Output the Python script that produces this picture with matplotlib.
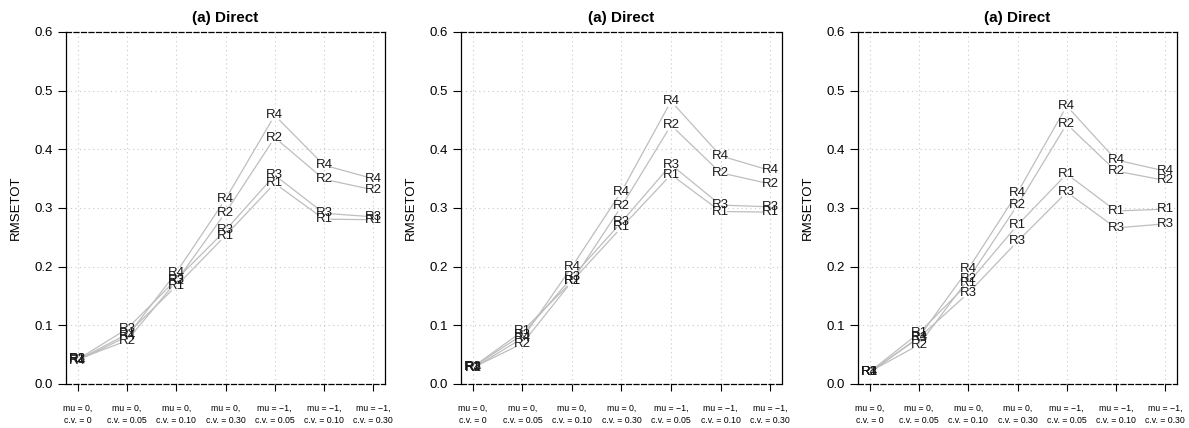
import numpy as np
import matplotlib
matplotlib.use("Agg")
import matplotlib.pyplot as plt

plt.rcParams["font.family"] = ["Liberation Sans", "DejaVu Sans"]

COR_LINHA = "#bebebe"
COR_TEXTO = "#1a1a1a"
COR_GRADE = "#c8c8c8"

X_LABELS = ["mu = 0,\nc.v. = 0", "mu = 0,\nc.v. = 0.05", "mu = 0,\nc.v. = 0.10",
            "mu = 0,\nc.v. = 0.30", "mu = \u22121,\nc.v. = 0.05", "mu = \u22121,\nc.v. = 0.10",
            "mu = \u22121,\nc.v. = 0.30"]
SERIES = ["R1", "R2", "R3", "R4"]
TITULOS = ["(a) Direct", "(a) Direct", "(a) Direct"]

# painel 1
P1_R1 = [0.041, 0.085, 0.167, 0.253, 0.342, 0.281, 0.280]
P1_R2 = [0.042, 0.074, 0.175, 0.292, 0.420, 0.349, 0.331]
P1_R3 = [0.042, 0.094, 0.178, 0.262, 0.356, 0.291, 0.285]
P1_R4 = [0.040, 0.081, 0.190, 0.315, 0.458, 0.373, 0.350]
# painel 2
P2_R1 = [0.029, 0.090, 0.175, 0.267, 0.357, 0.294, 0.293]
P2_R2 = [0.028, 0.069, 0.175, 0.303, 0.441, 0.360, 0.341]
P2_R3 = [0.029, 0.084, 0.182, 0.276, 0.374, 0.305, 0.302]
P2_R4 = [0.027, 0.078, 0.200, 0.328, 0.482, 0.389, 0.364]
# painel 3
P3_R1 = [0.021, 0.087, 0.172, 0.271, 0.358, 0.295, 0.298]
P3_R2 = [0.021, 0.067, 0.179, 0.305, 0.443, 0.363, 0.347]
P3_R3 = [0.020, 0.079, 0.155, 0.243, 0.327, 0.266, 0.273]
P3_R4 = [0.020, 0.080, 0.196, 0.326, 0.474, 0.382, 0.363]

PAINEIS = [
    [P1_R1, P1_R2, P1_R3, P1_R4],
    [P2_R1, P2_R2, P2_R3, P2_R4],
    [P3_R1, P3_R2, P3_R3, P3_R4],
]

W, H = 1189, 428
fig = plt.figure(figsize=(W / 100, H / 100), dpi=100)

# posicoes em pixels (esq, dir) de cada painel; topo 32, base 384
LIMITES_PX = [(66, 385), (461, 782), (858, 1177)]
TOPO, BASE = 32, 384
GAP = 7  # px de folga em torno dos rotulos (tipo "b" do R)

x = np.arange(1, len(X_LABELS) + 1)

for (esq, dir_), valores, titulo in zip(LIMITES_PX, PAINEIS, TITULOS):
    ax = fig.add_axes([esq / W, 1 - BASE / H, (dir_ - esq) / W, (BASE - TOPO) / H])
    ax.set_xlim(0.76, 7.24)
    ax.set_ylim(0, 0.6)

    for xi in x:
        ax.axvline(xi, color=COR_GRADE, linestyle=(0, (1, 3)), linewidth=0.8, zorder=0)
    for yi in np.arange(0.1, 0.55, 0.1):
        ax.axhline(yi, color=COR_GRADE, linestyle=(0, (1, 3)), linewidth=0.8, zorder=0)

    inv = ax.transData.inverted()
    for nome, ys in zip(SERIES, valores):
        pts = ax.transData.transform(np.column_stack([x, ys]))
        for p0, p1 in zip(pts[:-1], pts[1:]):
            d = p1 - p0
            L = np.hypot(*d)
            if L <= 2 * GAP:
                continue
            u = d / L
            a = inv.transform(p0 + u * GAP)
            b = inv.transform(p1 - u * GAP)
            ax.plot([a[0], b[0]], [a[1], b[1]], color=COR_LINHA, linewidth=0.9, zorder=2)
        for xi, yi in zip(x, ys):
            ax.text(xi, yi, nome, ha="center", va="center", fontsize=9.5,
                    color=COR_TEXTO, zorder=3)

    for lado in ["top", "bottom"]:
        ax.spines[lado].set_linestyle((0, (4, 2)))
        ax.spines[lado].set_linewidth(0.9)
    for lado in ["left", "right"]:
        ax.spines[lado].set_linewidth(0.9)

    ax.set_yticks(np.arange(0, 0.61, 0.1))
    ax.set_yticklabels([f"{v:.1f}" for v in np.arange(0, 0.61, 0.1)], fontsize=9.5)
    ax.set_xticks(x)
    ax.set_xticklabels(X_LABELS, fontsize=6.3, linespacing=1.4)
    ax.tick_params(axis="y", direction="out", length=5.5, width=0.8, pad=4)
    ax.tick_params(axis="x", direction="out", length=5, width=0.8, pad=9.5)
    ax.set_ylabel("RMSETOT", fontsize=9.5, labelpad=9)
    ax.set_title(titulo, fontsize=11, fontweight="bold", pad=7)

fig.savefig("out.png", dpi=100, facecolor="white")
